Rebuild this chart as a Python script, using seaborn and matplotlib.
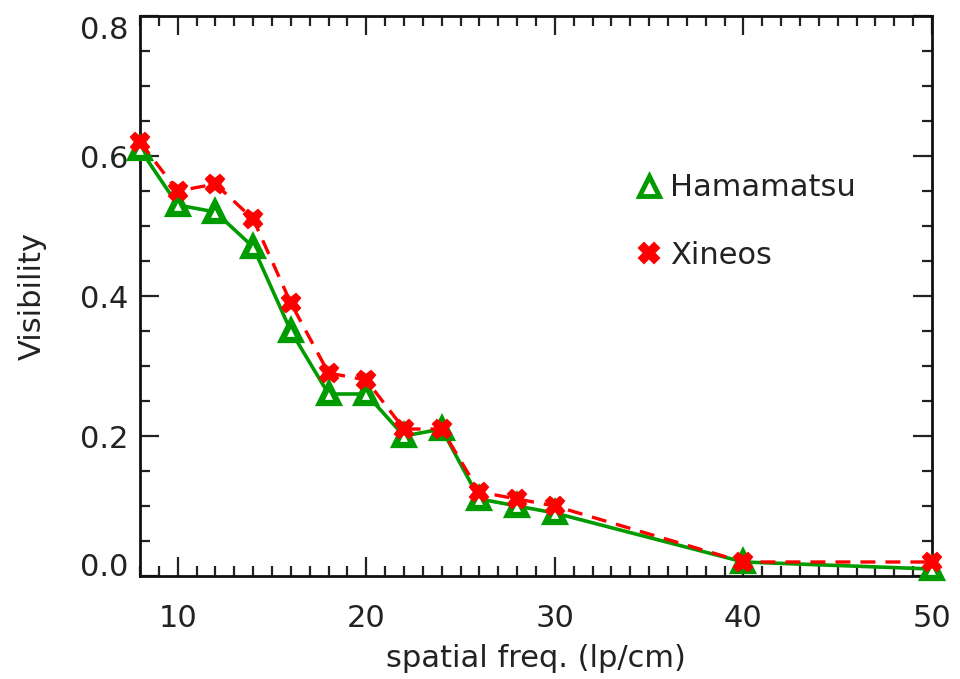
import matplotlib
matplotlib.use("Agg")
import matplotlib.pyplot as plt
from matplotlib.ticker import MultipleLocator, FormatStrFormatter
from matplotlib.lines import Line2D
import seaborn as sns

# ---- data ----
freq = [8, 10, 12, 14, 16, 18, 20, 22, 24, 26, 28, 30, 40, 50]
hamamatsu = [0.61, 0.53, 0.52, 0.47, 0.35, 0.26, 0.26, 0.20, 0.21, 0.11, 0.10, 0.09, 0.02, 0.01]
xineos = [0.62, 0.55, 0.56, 0.51, 0.39, 0.29, 0.28, 0.21, 0.21, 0.12, 0.11, 0.10, 0.02, 0.02]
series_names = ["Hamamatsu", "Xineos"]
x_ticks = [10, 20, 30, 40, 50]
y_ticks = [0.0, 0.2, 0.4, 0.6, 0.8]

GREEN = "#009B00"
RED = "#FF0000"
TXT = "#222222"
FS = 22

sns.set_theme(style="ticks")
plt.rcParams["font.family"] = ["DejaVu Sans"]

fig = plt.figure(figsize=(9.6, 6.79), dpi=100)
ax = fig.add_axes([0.1458, 0.1517, 0.8250, 0.8247])

# green first, red dashed drawn on top (as in the original)
sns.lineplot(x=freq, y=hamamatsu, ax=ax, color=GREEN, linewidth=2.6,
             linestyle="-", marker="^", markersize=13, markerfacecolor="white",
             markeredgecolor=GREEN, markeredgewidth=4.5, clip_on=False, zorder=3)
sns.lineplot(x=freq, y=xineos, ax=ax, color=RED, linewidth=2.4,
             linestyle=(0, (4.5, 3)), marker="X", markersize=13,
             markerfacecolor=RED, markeredgecolor=RED, markeredgewidth=1.5,
             clip_on=False, zorder=4)

ax.set_xlim(8, 50)
ax.set_ylim(0, 0.8)
ax.set_xticks(x_ticks)
ax.set_yticks(y_ticks)
ax.xaxis.set_minor_locator(MultipleLocator(1))
ax.yaxis.set_minor_locator(MultipleLocator(0.05))
ax.yaxis.set_major_formatter(FormatStrFormatter("%.1f"))

ax.tick_params(which="both", direction="in", top=True, right=True,
               colors=TXT, labelsize=FS, width=1.6)
ax.tick_params(which="major", length=14)
ax.tick_params(which="minor", length=7)
ax.tick_params(axis="x", which="major", pad=20)
ax.tick_params(axis="y", which="major", pad=8)
for s in ax.spines.values():
    s.set_linewidth(2)
    s.set_color("#111111")

# IDL-style: end labels pulled inside the axis range
yt = ax.yaxis.get_major_ticks()
yt[0].label1.set_verticalalignment("baseline")
yt[-1].label1.set_verticalalignment("top")

ax.set_xlabel("spatial freq. (lp/cm)", fontsize=FS, color=TXT, labelpad=8)
ax.set_ylabel("Visibility", fontsize=FS, color=TXT, labelpad=24)

handles = [
    Line2D([], [], linestyle="none", marker="^", markersize=14,
           markerfacecolor="white", markeredgecolor=GREEN, markeredgewidth=3.5),
    Line2D([], [], linestyle="none", marker="X", markersize=14,
           markerfacecolor=RED, markeredgecolor=RED, markeredgewidth=1.5),
]
leg = ax.legend(handles, series_names, loc="upper left",
                bbox_to_anchor=(0.592, 0.768), frameon=False, fontsize=FS,
                handlelength=0.8, handletextpad=0.3, labelspacing=1.25)
for t in leg.get_texts():
    t.set_color(TXT)

fig.savefig("out.png", dpi=100)
